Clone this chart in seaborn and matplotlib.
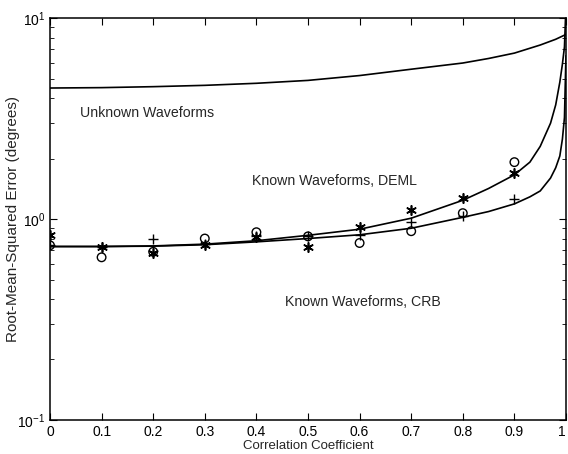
import pandas as pd
import numpy as np
import matplotlib
matplotlib.use('Agg')
import matplotlib.pyplot as plt
import seaborn as sns

# correlation values where the simulations were run
rho = [0, 0.1, 0.2, 0.3, 0.4, 0.5, 0.6, 0.7, 0.8, 0.9]
sim_circle = [0.74, 0.645, 0.687, 0.80, 0.86, 0.82, 0.76, 0.87, 1.07, 1.92]
sim_star = [0.83, 0.73, 0.68, 0.74, 0.81, 0.725, 0.91, 1.11, 1.27, 1.69]
sim_plus = [0.74, 0.73, 0.795, 0.75, 0.82, 0.82, 0.83, 0.966, 1.03, 1.26]

# theory curves
unk_x = [0, 0.1, 0.2, 0.3, 0.4, 0.5, 0.6, 0.7, 0.8, 0.85, 0.9, 0.95, 0.98, 1.0]
unk_y = [4.49, 4.51, 4.56, 4.63, 4.74, 4.90, 5.18, 5.57, 5.98, 6.30, 6.70, 7.35, 7.85, 8.3]

deml_x = [0, 0.1, 0.2, 0.3, 0.4, 0.5, 0.6, 0.7, 0.8, 0.85, 0.9, 0.93, 0.95,
          0.97, 0.98, 0.988, 0.993, 0.997, 0.999]
deml_y = [0.73, 0.73, 0.735, 0.75, 0.78, 0.83, 0.89, 1.01, 1.24, 1.42, 1.66, 1.92, 2.3,
          3.0, 3.7, 4.8, 5.9, 7.2, 10.0]

crb_x = [0, 0.1, 0.2, 0.3, 0.4, 0.5, 0.6, 0.7, 0.8, 0.85, 0.9, 0.93, 0.95,
         0.97, 0.98, 0.988, 0.993, 0.997, 0.9994, 1.0]
crb_y = [0.73, 0.73, 0.733, 0.745, 0.77, 0.80, 0.835, 0.90, 1.02, 1.09, 1.19, 1.29, 1.38,
         1.6, 1.8, 2.06, 2.5, 3.2, 5.8, 6.5]

xticks = [0, 0.1, 0.2, 0.3, 0.4, 0.5, 0.6, 0.7, 0.8, 0.9, 1]
xticklabels = ['0', '0.1', '0.2', '0.3', '0.4', '0.5', '0.6', '0.7', '0.8', '0.9', '1']

sns.set_style('ticks')
plt.rcParams['font.family'] = ['Liberation Sans', 'DejaVu Sans']
plt.rcParams['mathtext.fontset'] = 'custom'
plt.rcParams['mathtext.rm'] = 'Liberation Sans'

fig = plt.figure(figsize=(5.68, 4.54), dpi=100)
ax = fig.add_axes([0.088, 0.075, 0.9085, 0.885])

curves = pd.concat([
    pd.DataFrame({'x': unk_x, 'y': unk_y, 'curve': 'unknown'}),
    pd.DataFrame({'x': deml_x, 'y': deml_y, 'curve': 'deml'}),
    pd.DataFrame({'x': crb_x, 'y': crb_y, 'curve': 'crb'}),
])
sns.lineplot(data=curves, x='x', y='y', units='curve', estimator=None, sort=False,
             color='black', linewidth=1.2, ax=ax)

sns.scatterplot(x=rho, y=sim_circle, marker='o', s=38, facecolor='none',
                edgecolor='black', linewidth=1.0, ax=ax, zorder=3)
sns.scatterplot(x=rho, y=sim_star, marker=(6, 2, 0), s=45, color='black',
                linewidth=1.2, ax=ax, zorder=3)
sns.scatterplot(x=rho, y=sim_plus, marker='+', s=45, color='black',
                linewidth=1.0, ax=ax, zorder=3)

ax.set_yscale('log')
ax.set_xlim(0, 1)
ax.set_ylim(0.1, 10)
ax.set_xticks(xticks)
ax.set_xticklabels(xticklabels)
ax.get_xticklabels()[-1].set_horizontalalignment('right')
ax.tick_params(direction='in', top=True, right=True, which='both', labelsize=10,
               colors='black')
ax.tick_params(which='major', length=5)
ax.tick_params(which='minor', length=3)
for s in ax.spines.values():
    s.set_linewidth(1.1)
    s.set_color('black')

ax.set_xlabel('Correlation Coefficient', fontsize=9.5)
ax.xaxis.set_label_coords(0.5, -0.05)
ax.set_ylabel('Root-Mean-Squared Error (degrees)', fontsize=11)
ax.yaxis.set_label_coords(-0.058, 0.5)

ax.text(0.058, 3.37, 'Unknown Waveforms', fontsize=10.2, va='center')
ax.text(0.391, 1.55, 'Known Waveforms, DEML', fontsize=10.2, va='center')
ax.text(0.455, 0.386, 'Known Waveforms, CRB', fontsize=10.2, va='center')

fig.savefig('out.png', dpi=100)
